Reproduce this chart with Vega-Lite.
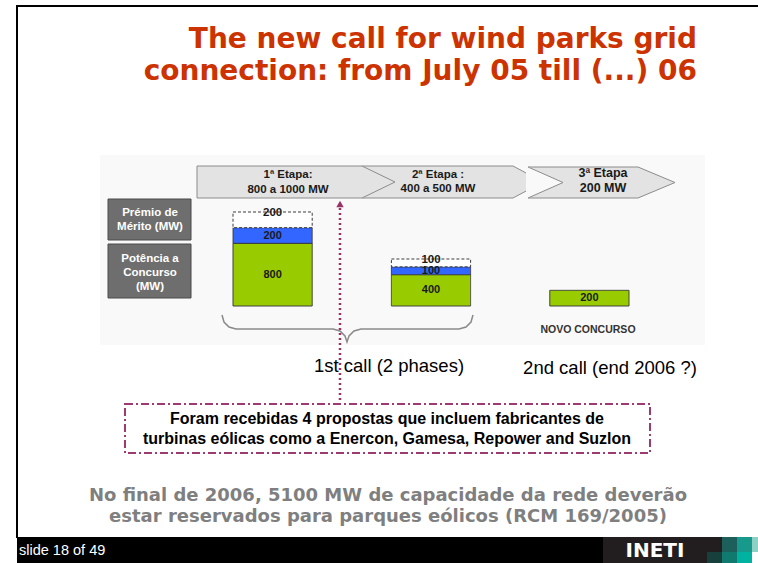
{
  "$schema": "https://vega.github.io/schema/vega-lite/v6.json",
  "width": 758,
  "height": 563,
  "autosize": {"type": "fit", "contains": "padding"},
  "padding": 0,
  "background": "white",
  "config": {"view": {"stroke": null}},
  "datasets": {
    "retangulos": [
      {"tipo": "fundo", "x0": 100, "x1": 705, "y0": 155, "y1": 345},
      {"tipo": "moldura", "x0": 16, "x1": 758, "y0": 5, "y1": 7},
      {"tipo": "moldura", "x0": 16, "x1": 18, "y0": 5, "y1": 538},
      {"tipo": "rodape", "x0": 17, "x1": 603, "y0": 537, "y1": 563},
      {"tipo": "logo", "x0": 603, "x1": 758, "y0": 537, "y1": 563},
      {"tipo": "q1", "x0": 722, "x1": 737, "y0": 537, "y1": 552},
      {"tipo": "q2", "x0": 737, "x1": 752, "y0": 537, "y1": 552},
      {"tipo": "q3", "x0": 752, "x1": 758, "y0": 537, "y1": 552},
      {"tipo": "q4", "x0": 707, "x1": 722, "y0": 552, "y1": 563},
      {"tipo": "q5", "x0": 722, "x1": 737, "y0": 552, "y1": 563},
      {"tipo": "q6", "x0": 737, "x1": 752, "y0": 552, "y1": 563},
      {"tipo": "q7", "x0": 752, "x1": 758, "y0": 552, "y1": 563}
    ],
    "caixasCinza": [
      {"rotulo": "Prémio de Mérito (MW)", "x0": 108, "x1": 191, "y0": 199, "y1": 240},
      {"rotulo": "Potência a Concurso (MW)", "x0": 108, "x1": 191, "y0": 244, "y1": 298}
    ],
    "faixas": [
      {"faixa": "1", "x": 197, "topo": 166, "base": 198},
      {"faixa": "1", "x": 362, "topo": 166, "base": 198},
      {"faixa": "1", "x": 395, "topo": 182, "base": 182},
      {"faixa": "2", "x": 362, "topo": 166, "base": 198},
      {"faixa": "2", "x": 513, "topo": 166, "base": 198},
      {"faixa": "2", "x": 543, "topo": 182, "base": 182},
      {"faixa": "3", "x": 528, "topo": 167, "base": 198},
      {"faixa": "3", "x": 638, "topo": 167, "base": 198},
      {"faixa": "3", "x": 675, "topo": 182.5, "base": 182.5}
    ],
    "entalhe": [
      {"x": 526, "topo": 166.1, "base": 198.9},
      {"x": 563, "topo": 182.5, "base": 182.5}
    ],
    "entalheLinha": [
      {"ordem": 1, "x": 528, "y": 167},
      {"ordem": 2, "x": 563, "y": 182.5},
      {"ordem": 3, "x": 528, "y": 198}
    ],
    "chaveta": [
      {"x": 222, "y": 315}, {"x": 224, "y": 322}, {"x": 229, "y": 327}, {"x": 236, "y": 329},
      {"x": 333, "y": 329}, {"x": 340, "y": 331}, {"x": 345, "y": 336}, {"x": 347, "y": 342},
      {"x": 349, "y": 336}, {"x": 354, "y": 331}, {"x": 361, "y": 329}, {"x": 459, "y": 329},
      {"x": 466, "y": 327}, {"x": 471, "y": 322}, {"x": 473, "y": 315}
    ],
    "seta": [{"x": 340, "y0": 208, "y1": 403, "ponta": 204}],
    "caixaPropostas": [{"x0": 125, "x1": 650, "y0": 404, "y1": 453}],
    "textos": [
      {"grupo": "titulo", "texto": "The new call for wind parks grid", "x": 697, "y": 40},
      {"grupo": "titulo", "texto": "connection: from July 05 till (...) 06", "x": 697, "y": 72},
      {"grupo": "faixa", "texto": "1ª Etapa:", "x": 288, "y": 175},
      {"grupo": "faixa", "texto": "800 a 1000 MW", "x": 288, "y": 190},
      {"grupo": "faixa", "texto": "2ª Etapa :", "x": 438, "y": 175},
      {"grupo": "faixa", "texto": "400 a 500 MW", "x": 438, "y": 189},
      {"grupo": "faixa3", "texto": "3ª Etapa", "x": 603, "y": 173},
      {"grupo": "faixa3", "texto": "200 MW", "x": 603, "y": 188},
      {"grupo": "caixa", "texto": "Prémio de", "x": 150, "y": 213},
      {"grupo": "caixa", "texto": "Mérito (MW)", "x": 150, "y": 227},
      {"grupo": "caixa", "texto": "Potência a", "x": 150, "y": 259},
      {"grupo": "caixa", "texto": "Concurso", "x": 150, "y": 273},
      {"grupo": "caixa", "texto": "(MW)", "x": 150, "y": 287},
      {"grupo": "novo", "texto": "NOVO CONCURSO", "x": 588, "y": 330},
      {"grupo": "chamada", "texto": "1st call (2 phases)", "x": 389, "y": 366},
      {"grupo": "chamada", "texto": "2nd call (end 2006 ?)", "x": 610, "y": 368},
      {"grupo": "propostas", "texto": "Foram recebidas 4 propostas que incluem fabricantes de", "x": 387, "y": 419},
      {"grupo": "propostas", "texto": "turbinas eólicas como a Enercon, Gamesa, Repower and Suzlon", "x": 387, "y": 439},
      {"grupo": "cinza", "texto": "No final de 2006, 5100 MW de capacidade da rede deverão", "x": 388, "y": 496},
      {"grupo": "cinza", "texto": "estar reservados para parques eólicos (RCM 169/2005)", "x": 388, "y": 517},
      {"grupo": "slide", "texto": "slide 18 of 49", "x": 19, "y": 551},
      {"grupo": "logo", "texto": "INETI", "x": 655, "y": 551}
    ],
    "potencia": [
      {"etapa": "1ª Etapa", "componente": "Potência a Concurso", "camada": 1, "mw": 800},
      {"etapa": "1ª Etapa", "componente": "Prémio de Mérito", "camada": 2, "mw": 200},
      {"etapa": "1ª Etapa", "componente": "Prémio de Mérito adicional", "camada": 3, "mw": 200},
      {"etapa": "2ª Etapa", "componente": "Potência a Concurso", "camada": 1, "mw": 400},
      {"etapa": "2ª Etapa", "componente": "Prémio de Mérito", "camada": 2, "mw": 100},
      {"etapa": "2ª Etapa", "componente": "Prémio de Mérito adicional", "camada": 3, "mw": 100},
      {"etapa": "3ª Etapa", "componente": "Potência a Concurso", "camada": 1, "mw": 200}
    ]
  },
  "layer": [
    {
      "layer": [
        {
          "data": {"name": "retangulos"},
          "mark": {"type": "rect", "strokeWidth": 0},
          "encoding": {
            "x": {"field": "x0", "type": "quantitative", "scale": {"domain": [0, 758], "nice": false, "zero": false}, "axis": null},
            "x2": {"field": "x1"},
            "y": {"field": "y0", "type": "quantitative", "scale": {"domain": [0, 563], "nice": false, "zero": false, "reverse": true}, "axis": null},
            "y2": {"field": "y1"},
            "fill": {"field": "tipo", "type": "nominal", "legend": null,
              "scale": {"domain": ["fundo", "moldura", "rodape", "logo", "q1", "q2", "q3", "q4", "q5", "q6", "q7"],
                        "range": ["#f9f9f9", "#000000", "#000000", "#221e1f", "#1d5f5a", "#179a8b", "#8ecfc6", "#173f3c", "#117a6f", "#00b3a1", "#ffffff"]}}
          }
        },
        {
          "data": {"name": "caixasCinza"},
          "mark": {"type": "rect", "fill": "#6e6e6e", "stroke": "#4a4a4a", "strokeWidth": 1},
          "encoding": {
            "x": {"field": "x0", "type": "quantitative", "scale": {"domain": [0, 758], "nice": false, "zero": false}, "axis": null},
            "x2": {"field": "x1"},
            "y": {"field": "y0", "type": "quantitative", "scale": {"domain": [0, 563], "nice": false, "zero": false, "reverse": true}, "axis": null},
            "y2": {"field": "y1"}
          }
        },
        {
          "data": {"name": "faixas"},
          "transform": [{"filter": {"field": "faixa", "equal": "2"}}],
          "mark": {"type": "area", "fill": "#e3e3e3", "stroke": "#8c8c8c", "strokeWidth": 1, "interpolate": "linear", "orient": "vertical"},
          "encoding": {
            "x": {"field": "x", "type": "quantitative", "scale": {"domain": [0, 758], "nice": false, "zero": false}, "axis": null},
            "y": {"field": "topo", "type": "quantitative", "scale": {"domain": [0, 563], "nice": false, "zero": false, "reverse": true}, "axis": null},
            "y2": {"field": "base"}
          }
        },
        {
          "data": {"name": "faixas"},
          "transform": [{"filter": {"field": "faixa", "equal": "1"}}],
          "mark": {"type": "area", "fill": "#e3e3e3", "stroke": "#8c8c8c", "strokeWidth": 1, "interpolate": "linear", "orient": "vertical"},
          "encoding": {
            "x": {"field": "x", "type": "quantitative", "scale": {"domain": [0, 758], "nice": false, "zero": false}, "axis": null},
            "y": {"field": "topo", "type": "quantitative", "scale": {"domain": [0, 563], "nice": false, "zero": false, "reverse": true}, "axis": null},
            "y2": {"field": "base"}
          }
        },
        {
          "data": {"name": "faixas"},
          "transform": [{"filter": {"field": "faixa", "equal": "3"}}],
          "mark": {"type": "area", "fill": "#e3e3e3", "stroke": "#8c8c8c", "strokeWidth": 1, "interpolate": "linear", "orient": "vertical"},
          "encoding": {
            "x": {"field": "x", "type": "quantitative", "scale": {"domain": [0, 758], "nice": false, "zero": false}, "axis": null},
            "y": {"field": "topo", "type": "quantitative", "scale": {"domain": [0, 563], "nice": false, "zero": false, "reverse": true}, "axis": null},
            "y2": {"field": "base"}
          }
        },
        {
          "data": {"name": "entalhe"},
          "mark": {"type": "area", "fill": "#f9f9f9", "strokeWidth": 0, "interpolate": "linear", "orient": "vertical"},
          "encoding": {
            "x": {"field": "x", "type": "quantitative", "scale": {"domain": [0, 758], "nice": false, "zero": false}, "axis": null},
            "y": {"field": "topo", "type": "quantitative", "scale": {"domain": [0, 563], "nice": false, "zero": false, "reverse": true}, "axis": null},
            "y2": {"field": "base"}
          }
        },
        {
          "data": {"name": "entalheLinha"},
          "mark": {"type": "line", "stroke": "#8c8c8c", "strokeWidth": 1},
          "encoding": {
            "x": {"field": "x", "type": "quantitative", "scale": {"domain": [0, 758], "nice": false, "zero": false}, "axis": null},
            "y": {"field": "y", "type": "quantitative", "scale": {"domain": [0, 563], "nice": false, "zero": false, "reverse": true}, "axis": null},
            "order": {"field": "ordem", "type": "quantitative"}
          }
        },
        {
          "data": {"name": "chaveta"},
          "mark": {"type": "line", "stroke": "#8a8a8a", "strokeWidth": 1.5, "interpolate": "linear"},
          "encoding": {
            "x": {"field": "x", "type": "quantitative", "scale": {"domain": [0, 758], "nice": false, "zero": false}, "axis": null},
            "y": {"field": "y", "type": "quantitative", "scale": {"domain": [0, 563], "nice": false, "zero": false, "reverse": true}, "axis": null}
          }
        },
        {
          "data": {"name": "seta"},
          "mark": {"type": "rule", "stroke": "#993366", "strokeWidth": 2.5, "strokeDash": [2, 3]},
          "encoding": {
            "x": {"field": "x", "type": "quantitative", "scale": {"domain": [0, 758], "nice": false, "zero": false}, "axis": null},
            "y": {"field": "y0", "type": "quantitative", "scale": {"domain": [0, 563], "nice": false, "zero": false, "reverse": true}, "axis": null},
            "y2": {"field": "y1"}
          }
        },
        {
          "data": {"name": "seta"},
          "mark": {"type": "point", "shape": "triangle-up", "filled": true, "size": 55, "color": "#993366", "opacity": 1},
          "encoding": {
            "x": {"field": "x", "type": "quantitative", "scale": {"domain": [0, 758], "nice": false, "zero": false}, "axis": null},
            "y": {"field": "ponta", "type": "quantitative", "scale": {"domain": [0, 563], "nice": false, "zero": false, "reverse": true}, "axis": null}
          }
        },
        {
          "data": {"name": "caixaPropostas"},
          "mark": {"type": "rect", "fill": null, "fillOpacity": 0, "stroke": "#9e3a72", "strokeWidth": 2, "strokeDash": [8, 3, 2, 3]},
          "encoding": {
            "x": {"field": "x0", "type": "quantitative", "scale": {"domain": [0, 758], "nice": false, "zero": false}, "axis": null},
            "x2": {"field": "x1"},
            "y": {"field": "y0", "type": "quantitative", "scale": {"domain": [0, 563], "nice": false, "zero": false, "reverse": true}, "axis": null},
            "y2": {"field": "y1"}
          }
        },
        {
          "data": {"name": "textos"},
          "transform": [{"filter": {"field": "grupo", "equal": "titulo"}}],
          "mark": {"type": "text", "font": "DejaVu Sans", "fontWeight": "bold", "fontSize": 28, "color": "#cc3300", "align": "right", "baseline": "middle"},
          "encoding": {
            "x": {"field": "x", "type": "quantitative", "scale": {"domain": [0, 758], "nice": false, "zero": false}, "axis": null},
            "y": {"field": "y", "type": "quantitative", "scale": {"domain": [0, 563], "nice": false, "zero": false, "reverse": true}, "axis": null},
            "text": {"field": "texto"}
          }
        },
        {
          "data": {"name": "textos"},
          "transform": [{"filter": {"field": "grupo", "equal": "faixa"}}],
          "mark": {"type": "text", "font": "Liberation Sans", "fontWeight": "bold", "fontSize": 11.5, "color": "#1a1a1a", "align": "center", "baseline": "middle"},
          "encoding": {
            "x": {"field": "x", "type": "quantitative", "scale": {"domain": [0, 758], "nice": false, "zero": false}, "axis": null},
            "y": {"field": "y", "type": "quantitative", "scale": {"domain": [0, 563], "nice": false, "zero": false, "reverse": true}, "axis": null},
            "text": {"field": "texto"}
          }
        },
        {
          "data": {"name": "textos"},
          "transform": [{"filter": {"field": "grupo", "equal": "faixa3"}}],
          "mark": {"type": "text", "font": "Liberation Sans", "fontWeight": "bold", "fontSize": 12.5, "color": "#1a1a1a", "align": "center", "baseline": "middle"},
          "encoding": {
            "x": {"field": "x", "type": "quantitative", "scale": {"domain": [0, 758], "nice": false, "zero": false}, "axis": null},
            "y": {"field": "y", "type": "quantitative", "scale": {"domain": [0, 563], "nice": false, "zero": false, "reverse": true}, "axis": null},
            "text": {"field": "texto"}
          }
        },
        {
          "data": {"name": "textos"},
          "transform": [{"filter": {"field": "grupo", "equal": "caixa"}}],
          "mark": {"type": "text", "font": "Liberation Sans", "fontWeight": "bold", "fontSize": 11.5, "color": "#ffffff", "align": "center", "baseline": "middle"},
          "encoding": {
            "x": {"field": "x", "type": "quantitative", "scale": {"domain": [0, 758], "nice": false, "zero": false}, "axis": null},
            "y": {"field": "y", "type": "quantitative", "scale": {"domain": [0, 563], "nice": false, "zero": false, "reverse": true}, "axis": null},
            "text": {"field": "texto"}
          }
        },
        {
          "data": {"name": "textos"},
          "transform": [{"filter": {"field": "grupo", "equal": "novo"}}],
          "mark": {"type": "text", "font": "Liberation Sans", "fontWeight": "bold", "fontSize": 10.5, "color": "#333333", "align": "center", "baseline": "middle"},
          "encoding": {
            "x": {"field": "x", "type": "quantitative", "scale": {"domain": [0, 758], "nice": false, "zero": false}, "axis": null},
            "y": {"field": "y", "type": "quantitative", "scale": {"domain": [0, 563], "nice": false, "zero": false, "reverse": true}, "axis": null},
            "text": {"field": "texto"}
          }
        },
        {
          "data": {"name": "textos"},
          "transform": [{"filter": {"field": "grupo", "equal": "chamada"}}],
          "mark": {"type": "text", "font": "Liberation Sans", "fontSize": 18.5, "color": "#000000", "align": "center", "baseline": "middle"},
          "encoding": {
            "x": {"field": "x", "type": "quantitative", "scale": {"domain": [0, 758], "nice": false, "zero": false}, "axis": null},
            "y": {"field": "y", "type": "quantitative", "scale": {"domain": [0, 563], "nice": false, "zero": false, "reverse": true}, "axis": null},
            "text": {"field": "texto"}
          }
        },
        {
          "data": {"name": "textos"},
          "transform": [{"filter": {"field": "grupo", "equal": "propostas"}}],
          "mark": {"type": "text", "font": "Liberation Sans", "fontWeight": "bold", "fontSize": 16, "color": "#000000", "align": "center", "baseline": "middle"},
          "encoding": {
            "x": {"field": "x", "type": "quantitative", "scale": {"domain": [0, 758], "nice": false, "zero": false}, "axis": null},
            "y": {"field": "y", "type": "quantitative", "scale": {"domain": [0, 563], "nice": false, "zero": false, "reverse": true}, "axis": null},
            "text": {"field": "texto"}
          }
        },
        {
          "data": {"name": "textos"},
          "transform": [{"filter": {"field": "grupo", "equal": "cinza"}}],
          "mark": {"type": "text", "font": "DejaVu Sans", "fontWeight": "bold", "fontSize": 18, "color": "#7f7f7f", "align": "center", "baseline": "middle"},
          "encoding": {
            "x": {"field": "x", "type": "quantitative", "scale": {"domain": [0, 758], "nice": false, "zero": false}, "axis": null},
            "y": {"field": "y", "type": "quantitative", "scale": {"domain": [0, 563], "nice": false, "zero": false, "reverse": true}, "axis": null},
            "text": {"field": "texto"}
          }
        },
        {
          "data": {"name": "textos"},
          "transform": [{"filter": {"field": "grupo", "equal": "slide"}}],
          "mark": {"type": "text", "font": "Liberation Sans", "fontSize": 14.5, "color": "#ffffff", "align": "left", "baseline": "middle"},
          "encoding": {
            "x": {"field": "x", "type": "quantitative", "scale": {"domain": [0, 758], "nice": false, "zero": false}, "axis": null},
            "y": {"field": "y", "type": "quantitative", "scale": {"domain": [0, 563], "nice": false, "zero": false, "reverse": true}, "axis": null},
            "text": {"field": "texto"}
          }
        },
        {
          "data": {"name": "textos"},
          "transform": [{"filter": {"field": "grupo", "equal": "logo"}}],
          "mark": {"type": "text", "font": "DejaVu Sans", "fontWeight": "bold", "fontSize": 20, "color": "#ffffff", "align": "center", "baseline": "middle"},
          "encoding": {
            "x": {"field": "x", "type": "quantitative", "scale": {"domain": [0, 758], "nice": false, "zero": false}, "axis": null},
            "y": {"field": "y", "type": "quantitative", "scale": {"domain": [0, 563], "nice": false, "zero": false, "reverse": true}, "axis": null},
            "text": {"field": "texto"}
          }
        }
      ]
    },
    {
      "data": {"name": "potencia"},
      "layer": [
        {
          "mark": {"type": "bar", "stroke": "#3c3c3c", "strokeWidth": 1},
          "encoding": {
            "x": {"field": "etapa", "type": "nominal", "axis": null,
                  "scale": {"domain": ["1ª Etapa", "2ª Etapa", "3ª Etapa"], "range": [233, 629], "paddingInner": 0.5, "paddingOuter": 0}},
            "y": {"field": "mw", "type": "quantitative", "stack": "zero", "axis": null,
                  "scale": {"domain": [0, 1200], "range": [306, 212], "nice": false, "zero": false}},
            "fill": {"field": "componente", "type": "nominal", "legend": null,
                     "scale": {"domain": ["Potência a Concurso", "Prémio de Mérito", "Prémio de Mérito adicional"], "range": ["#99cc00", "#3366ff", "#ffffff"]}},
            "strokeDash": {"field": "componente", "type": "nominal", "legend": null,
                     "scale": {"domain": ["Potência a Concurso", "Prémio de Mérito", "Prémio de Mérito adicional"], "range": [[1, 0], [1, 0], [3, 2]]}},
            "order": {"field": "camada", "type": "quantitative"}
          }
        },
        {
          "transform": [
            {"stack": "mw", "groupby": ["etapa"], "sort": [{"field": "camada"}], "as": ["base", "topo"]},
            {"filter": "datum.camada < 3"},
            {"fold": ["base", "topo"], "as": ["limite", "valor"]}
          ],
          "mark": {"type": "text", "font": "Liberation Sans", "fontWeight": "bold", "fontSize": 11, "color": "#1a1a1a", "align": "center", "baseline": "middle"},
          "encoding": {
            "x": {"field": "etapa", "type": "nominal", "axis": null,
                  "scale": {"domain": ["1ª Etapa", "2ª Etapa", "3ª Etapa"], "range": [233, 629], "paddingInner": 0.5, "paddingOuter": 0}},
            "y": {"field": "valor", "aggregate": "mean", "type": "quantitative", "stack": null, "axis": null,
                  "scale": {"domain": [0, 1200], "range": [306, 212], "nice": false, "zero": false}},
            "detail": {"field": "componente", "type": "nominal"},
            "text": {"field": "mw", "type": "quantitative"}
          }
        },
        {
          "transform": [
            {"stack": "mw", "groupby": ["etapa"], "sort": [{"field": "camada"}], "as": ["base", "topo"]},
            {"filter": "datum.camada == 3"}
          ],
          "mark": {"type": "text", "font": "Liberation Sans", "fontWeight": "bold", "fontSize": 11.5, "color": "#1a1a1a", "align": "center", "baseline": "middle", "dy": 1},
          "encoding": {
            "x": {"field": "etapa", "type": "nominal", "axis": null,
                  "scale": {"domain": ["1ª Etapa", "2ª Etapa", "3ª Etapa"], "range": [233, 629], "paddingInner": 0.5, "paddingOuter": 0}},
            "y": {"field": "topo", "type": "quantitative", "stack": null, "axis": null,
                  "scale": {"domain": [0, 1200], "range": [306, 212], "nice": false, "zero": false}},
            "text": {"field": "mw", "type": "quantitative"}
          }
        }
      ]
    }
  ],
  "resolve": {"scale": {"x": "independent", "y": "independent", "fill": "independent", "strokeDash": "independent"}}
}
